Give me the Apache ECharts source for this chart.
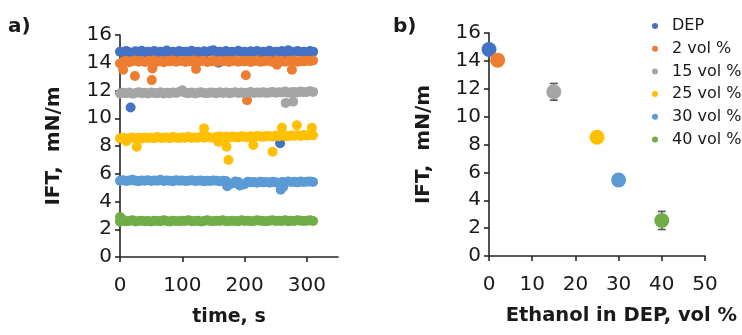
<!DOCTYPE html>
<html>
<head>
<meta charset="utf-8">
<script src="https://cdn.jsdelivr.net/npm/echarts@6/dist/echarts.min.js"></script>
<style>
  html, body { margin: 0; padding: 0; background: #fff; }
  #chart { width: 742px; height: 335px; }
</style>
</head>
<body>
<div id="chart"></div>
<script>
// Interfacial tension (IFT) of DEP with different ethanol contents.

// Legend entries / series names
const seriesNames = ['DEP', '2 vol %', '15 vol %', '25 vol %', '30 vol %', '40 vol %'];
const seriesColors = ['#4472C4', '#ED7D31', '#A5A5A5', '#FFC000', '#5B9BD5', '#70AD47'];

// Axis titles
const iftTitle = 'IFT,  mN/m';
const timeTitle = 'time, s';
const ethanolTitle = 'Ethanol in DEP, vol %';

// Panel a) — measurement times, s
const timeS = [0, 5, 10, 15, 20, 25, 30, 35, 40, 45, 50, 55, 60, 65, 70, 75, 80, 85, 90, 95,
               100, 105, 110, 115, 120, 125, 130, 135, 140, 145, 150, 155, 160, 165, 170, 175, 180, 185, 190, 195,
               200, 205, 210, 215, 220, 225, 230, 235, 240, 245, 250, 255, 260, 265, 270, 275, 280, 285, 290, 295,
               300, 305, 310];

// IFT readings (mN/m) at each time in timeS
const iftDEP = [14.8, 14.74, 14.84, 14.76, 14.7, 14.82, 14.78, 14.86, 14.72, 14.8,
                14.76, 14.84, 14.7, 14.8, 14.78, 14.88, 14.74, 14.8, 14.72, 14.84,
                14.78, 14.8, 14.74, 14.86, 14.76, 14.8, 14.7, 14.82, 14.78, 14.84,
                14.9, 14.76, 14.8, 14.72, 14.84, 14.78, 14.8, 14.74, 14.86, 14.76,
                14.8, 14.72, 14.82, 14.78, 14.84, 14.74, 14.8, 14.76, 14.86, 14.72,
                14.8, 14.78, 14.84, 14.76, 14.9, 14.8, 14.74, 14.84, 14.78, 14.8,
                14.76, 14.84, 14.8];
const iftVol2 = [13.95, 14.08, 14.14, 14.04, 14.12, 14.16, 14.08, 14.12, 14.06, 14.14,
                 14.1, 14.16, 14.08, 14.12, 14.04, 14.14, 14.1, 14.16, 14.08, 14.12,
                 14.14, 14.06, 14.12, 14.1, 14.16, 14.08, 14.12, 14.14, 14.06, 14.1,
                 14.16, 14.08, 14.12, 14.1, 14.14, 14.06, 14.12, 14.16, 14.08, 14.12,
                 14.1, 14.14, 14.06, 14.12, 14.16, 14.08, 14.1, 14.14, 14.12, 14.06,
                 14.16, 14.1, 14.12, 14.08, 14.14, 14.12, 14.16, 14.08, 14.12, 14.1,
                 14.14, 14.12, 14.16];
const iftVol15 = [11.78, 11.84, 11.8, 11.86, 11.76, 11.82, 11.88, 11.8, 11.84, 11.78,
                  11.86, 11.82, 11.8, 11.88, 11.78, 11.84, 11.8, 11.86, 11.82, 11.9,
                  12.02, 11.84, 11.8, 11.86, 11.78, 11.84, 11.88, 11.82, 11.8, 11.86,
                  11.84, 11.8, 11.88, 11.82, 11.86, 11.8, 11.84, 11.88, 11.82, 11.86,
                  11.8, 11.84, 11.9, 11.82, 11.86, 11.84, 11.88, 11.82, 11.86, 11.9,
                  11.84, 11.88, 11.86, 11.92, 11.84, 11.88, 11.9, 11.86, 11.92, 11.88,
                  11.9, 11.94, 11.9];
const iftVol25 = [8.55, 8.6, 8.52, 8.58, 8.62, 8.56, 8.6, 8.54, 8.62, 8.58,
                  8.6, 8.56, 8.64, 8.58, 8.6, 8.62, 8.56, 8.64, 8.6, 8.58,
                  8.62, 8.6, 8.66, 8.58, 8.62, 8.6, 8.64, 8.6, 8.66, 8.62,
                  8.6, 8.64, 8.68, 8.62, 8.66, 8.6, 8.68, 8.64, 8.62, 8.7,
                  8.66, 8.64, 8.7, 8.66, 8.72, 8.68, 8.66, 8.72, 8.7, 8.68,
                  8.74, 8.7, 8.76, 8.72, 8.7, 8.76, 8.74, 8.78, 8.72, 8.8,
                  8.76, 8.8, 8.78];
const iftVol30 = [5.5, 5.54, 5.48, 5.52, 5.56, 5.5, 5.46, 5.52, 5.5, 5.54,
                  5.48, 5.52, 5.5, 5.56, 5.48, 5.52, 5.5, 5.46, 5.54, 5.5,
                  5.52, 5.48, 5.5, 5.54, 5.48, 5.5, 5.52, 5.46, 5.5, 5.48,
                  5.52, 5.5, 5.46, 5.5, 5.48, 5.25, 5.3, 5.45, 5.4, 5.2,
                  5.25, 5.42, 5.38, 5.4, 5.36, 5.42, 5.38, 5.4, 5.36, 5.42,
                  5.38, 5.32, 5.4, 5.38, 5.44, 5.4, 5.42, 5.38, 5.44, 5.4,
                  5.42, 5.44, 5.4];
const iftVol40 = [2.55, 2.62, 2.58, 2.6, 2.64, 2.56, 2.6, 2.62, 2.58, 2.6,
                  2.56, 2.62, 2.6, 2.58, 2.64, 2.6, 2.56, 2.62, 2.6, 2.58,
                  2.62, 2.6, 2.64, 2.58, 2.6, 2.62, 2.56, 2.6, 2.64, 2.6,
                  2.58, 2.62, 2.6, 2.64, 2.58, 2.6, 2.62, 2.6, 2.58, 2.64,
                  2.6, 2.62, 2.58, 2.6, 2.64, 2.62, 2.6, 2.58, 2.62, 2.64,
                  2.6, 2.62, 2.6, 2.64, 2.58, 2.62, 2.6, 2.64, 2.62, 2.6,
                  2.62, 2.64, 2.6];

// Off-trend readings [time s, IFT mN/m]
const strayDEP = [[17, 10.78], [158, 14.0], [254, 14.0], [257, 8.2]];
const strayVol2 = [[5, 13.5], [24, 13.05], [51, 12.75], [52, 13.58], [122, 13.55], [202, 13.1], [204, 11.3], [252, 13.85], [276, 13.5]];
const strayVol15 = [[266, 11.1], [278, 11.2]];
const strayVol25 = [[10, 8.35], [27, 7.95], [135, 9.27], [158, 8.3], [171, 7.95], [174, 6.99], [214, 8.07], [245, 7.59], [260, 9.32], [284, 9.5], [308, 9.32]];
const strayVol30 = [[172, 5.1], [192, 5.15], [258, 4.85], [262, 5.05]];
const strayVol40 = [[0, 2.88], [3, 2.75]];

// Panel b) — mean IFT vs ethanol content, with standard deviation
const ethanolPct = [0, 2, 15, 25, 30, 40];
const meanIFT = [14.82, 14.05, 11.78, 8.52, 5.45, 2.55];
const sdIFT = [0.08, 0.08, 0.6, 0.12, 0.12, 0.65];

// Axis ticks
const iftTicks = { min: 0, max: 16, interval: 2 };
const timeTicks = { min: 0, max: 350, interval: 100 };
const ethanolTicks = { min: 0, max: 50, interval: 10 };

const timeSeries = [iftDEP, iftVol2, iftVol15, iftVol25, iftVol30, iftVol40];
const straySeries = [strayDEP, strayVol2, strayVol15, strayVol25, strayVol30, strayVol40];

const FONT = 'DejaVu Sans';
const INK = '#1a1a1a';
const AXIS = '#262626';
const tickLabel = (margin) => ({ fontFamily: FONT, fontSize: 20, color: INK, margin });

function valueAxis(gridIndex, ticks, name, nameGap, extra) {
  return Object.assign({
    type: 'value', gridIndex, min: ticks.min, max: ticks.max, interval: ticks.interval,
    name, nameLocation: 'middle', nameGap,
    nameTextStyle: { fontFamily: FONT, fontSize: 20, fontWeight: 'bold', color: INK },
    axisLine: { show: true, onZero: false, lineStyle: { color: AXIS, width: 1.6 } },
    axisTick: { show: true, length: 5, lineStyle: { color: AXIS, width: 1.6 } },
    axisLabel: tickLabel(8),
    splitLine: { show: false }
  }, extra || {});
}

const series = [];
seriesNames.forEach((name, i) => {
  const pts = timeS.map((t, k) => [t, timeSeries[i][k]]).concat(straySeries[i]);
  series.push({
    name, type: 'scatter', xAxisIndex: 0, yAxisIndex: 0,
    symbol: 'circle', symbolSize: 10, data: pts,
    itemStyle: { color: seriesColors[i], opacity: 1 },
    emphasis: { disabled: true }, animation: false, z: 2 + i
  });
});

// Error bars for panel b
series.push({
  name: 'sd', type: 'custom', xAxisIndex: 1, yAxisIndex: 1, animation: false, z: 1,
  data: ethanolPct.map((x, i) => [x, meanIFT[i] - sdIFT[i], meanIFT[i] + sdIFT[i]]),
  encode: { x: 0, y: [1, 2] },
  renderItem(params, api) {
    const lo = api.coord([api.value(0), api.value(1)]);
    const hi = api.coord([api.value(0), api.value(2)]);
    const w = 4;
    const style = { stroke: '#595959', lineWidth: 1.6 };
    return {
      type: 'group', children: [
        { type: 'line', shape: { x1: lo[0], y1: lo[1], x2: hi[0], y2: hi[1] }, style },
        { type: 'line', shape: { x1: lo[0] - w, y1: lo[1], x2: lo[0] + w, y2: lo[1] }, style },
        { type: 'line', shape: { x1: hi[0] - w, y1: hi[1], x2: hi[0] + w, y2: hi[1] }, style }
      ]
    };
  }
});

seriesNames.forEach((name, i) => {
  series.push({
    name, type: 'scatter', xAxisIndex: 1, yAxisIndex: 1,
    symbol: 'circle', symbolSize: 15, data: [[ethanolPct[i], meanIFT[i]]],
    itemStyle: { color: seriesColors[i], opacity: 1 },
    emphasis: { disabled: true }, animation: false, z: 5
  });
});

const chart = echarts.init(document.getElementById('chart'), null, { renderer: 'canvas' });
chart.setOption({
  backgroundColor: '#ffffff',
  animation: false,
  title: [
    { text: 'a)', left: 8, top: 17, padding: 0, textStyle: { fontFamily: FONT, fontSize: 20, fontWeight: 'bold', color: INK } },
    { text: 'b)', left: 393, top: 17, padding: 0, textStyle: { fontFamily: FONT, fontSize: 20, fontWeight: 'bold', color: INK } }
  ],
  legend: {
    data: seriesNames.map(n => ({ name: n, icon: 'circle' })),
    orient: 'vertical', left: 652, top: 18, padding: 0,
    itemWidth: 6, itemHeight: 6, itemGap: 6.7,
    textStyle: { fontFamily: FONT, fontSize: 16, color: INK, lineHeight: 16, padding: [0, 0, 0, 9] },
    selectedMode: false
  },
  // Title of panel b's x axis sits right of the axis centre
  graphic: [{
    type: 'text', right: 5, top: 306, silent: true,
    style: { text: ethanolTitle, font: 'bold 19.5px "DejaVu Sans"', fill: INK }
  }],
  grid: [
    { left: 120, top: 35, width: 218, height: 222 },
    { left: 489, top: 33, width: 216, height: 223 }
  ],
  xAxis: [
    valueAxis(0, timeTicks, timeTitle, 51, {
      axisLabel: Object.assign(tickLabel(19), { showMaxLabel: false }),
      nameTextStyle: { fontFamily: FONT, fontSize: 19, fontWeight: 'bold', color: INK }
    }),
    valueAxis(1, ethanolTicks, '', 51, { axisLabel: tickLabel(19) })
  ],
  yAxis: [
    valueAxis(0, iftTicks, iftTitle, 56),
    valueAxis(1, iftTicks, iftTitle, 55)
  ],
  series
});
</script>
</body>
</html>
